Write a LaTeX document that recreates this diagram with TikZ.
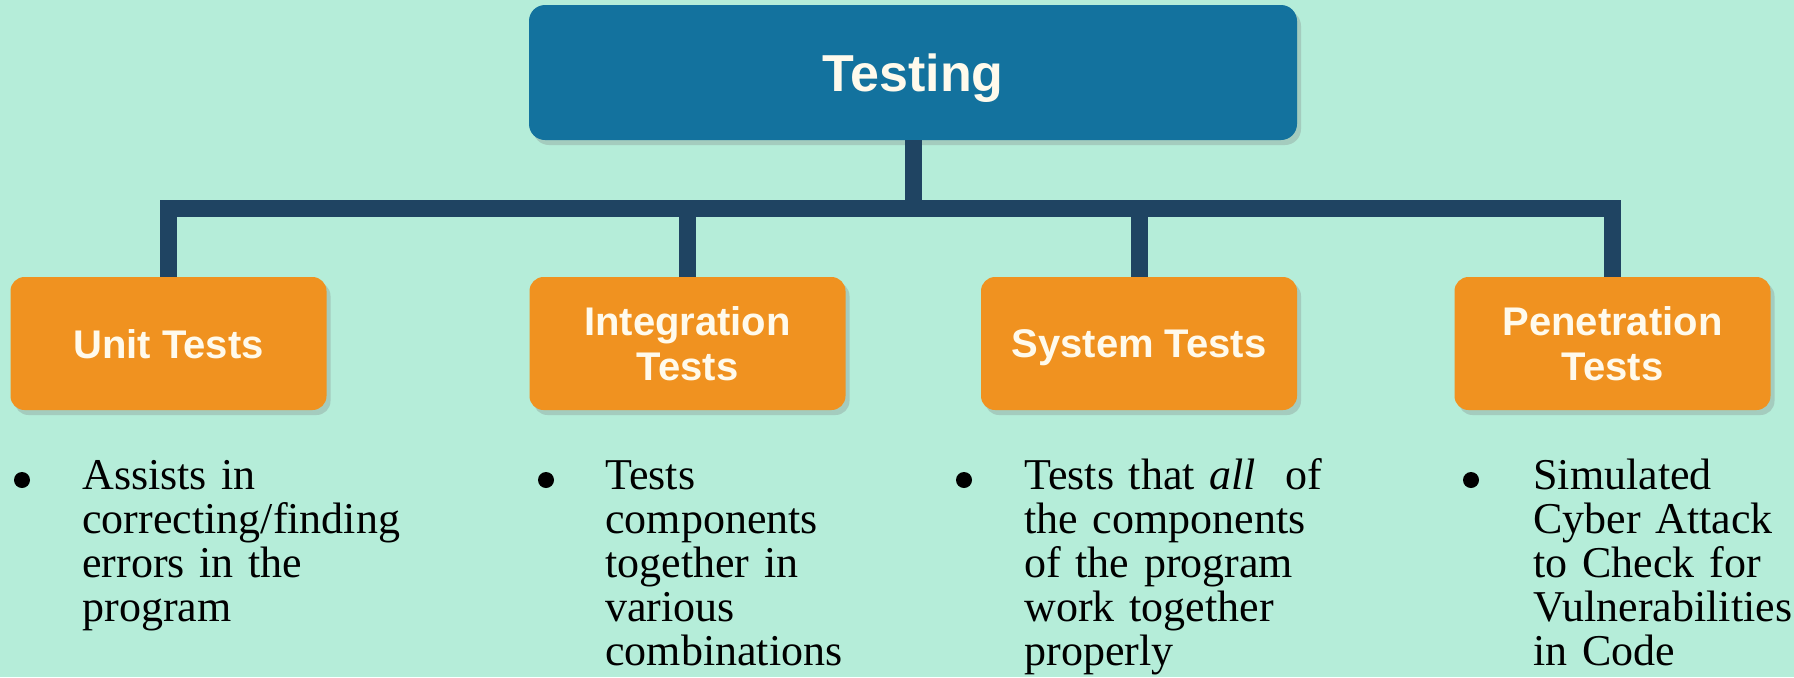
\documentclass[tikz,border=0pt]{standalone}
\usepackage{fontspec}
\setmainfont{Liberation Serif}[WordSpace=0.8]
\newfontfamily\boxfont{Liberation Sans}
\usetikzlibrary{positioning,shadows}

\definecolor{mint}{RGB}{181,237,217}
\definecolor{topblue}{RGB}{19,114,158}
\definecolor{linkblue}{RGB}{31,68,98}
\definecolor{leaforange}{RGB}{240,146,32}
\definecolor{labelwhite}{RGB}{255,250,236}

\begin{document}
\begin{tikzpicture}[x=0.5pt,y=-0.5pt,on grid]
\tikzset{boxshadow/.style={drop shadow={shadow xshift=2pt,shadow yshift=-2.5pt,opacity=0.3}}}
\tikzset{root/.style={rounded corners=8pt,fill=topblue,boxshadow,minimum width=384pt,minimum height=67.5pt,
    text depth=0pt,text=labelwhite,font=\boxfont\bfseries\fontsize{26}{30}\selectfont}}
\tikzset{leaf/.style={rounded corners=7pt,fill=leaforange,boxshadow,minimum width=158pt,minimum height=66.5pt,
    text depth=0pt,align=center,text=labelwhite,font=\boxfont\bfseries\fontsize{20}{22.5}\selectfont}}
\tikzset{link/.style={draw=linkblue,line width=8.5pt}}
\tikzset{note/.style={anchor=base west,inner sep=0pt,text width=190pt,align=left,font=\fontsize{22}{22}\selectfont}}
\tikzset{dot/.style={circle,fill=black,inner sep=0pt,minimum size=8pt}}

  \useasboundingbox (0,0) rectangle (1794,677);
  \fill[mint] (0,0) rectangle (1794,677);

  \node[root]          (testing) at (913,72.5)           {Testing};
  \node[leaf]          (unit)    at (168.5,343.5)        {Unit Tests};
  \node[leaf]          (integ)   [right=259.5pt of unit]  {Integration\\Tests};
  \node[leaf]          (system)  [right=225.75pt of integ] {System Tests};
  \node[leaf]          (pen)     [right=236.75pt of system] {Penetration\\Tests};

  % tree lines
  \coordinate (barlevel) at (0,208);
  \draw[link] (testing.south) -- (testing.south |- barlevel);
  \draw[link,line join=miter] (unit.north) |- (pen.north |- barlevel) -- (pen.north);
  \draw[link] (integ.north) -- (integ.north |- barlevel);
  \draw[link] (system.north) -- (system.north |- barlevel);

  % bullet notes
  \node[dot]  (dot1)  at (22,480)   {};
  \node[note] (note1) at (82,489)   {Assists in\\correcting/finding\\errors in the\\program};
  \node[dot]  (dot2)  at (546,480)  {};
  \node[note] (note2) at (605,489)  {Tests\\components\\together in\\various\\combinations};
  \node[dot]  (dot3)  at (964,480)  {};
  \node[note] (note3) at (1024,489) {Tests that \textit{all}\ \ of\\the components\\of the program\\work together\\properly};
  \node[dot]  (dot4)  at (1471,480) {};
  \node[note] (note4) at (1533,489) {Simulated\\Cyber Attack\\to Check for\\Vulnerabilities\\in Code};
\end{tikzpicture}
\end{document}
